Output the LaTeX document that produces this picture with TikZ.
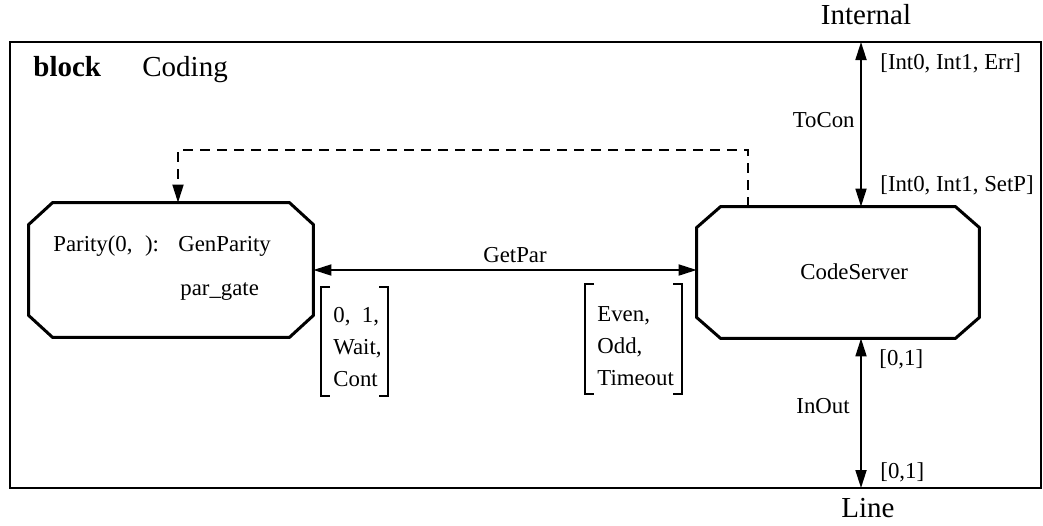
\documentclass[tikz,border=0pt]{standalone}
\usepackage{fontspec}
\setmainfont{Liberation Serif}
\usetikzlibrary{arrows.meta,calc}
\newcommand\octdraw[3]{\draw[octline] ($(#1.north west)+(#2,0)$) -- ($(#1.north east)+(-#2,0)$) -- ($(#1.north east)+(0,#3)$) -- ($(#1.south east)+(0,-#3)$) -- ($(#1.south east)+(-#2,0)$) -- ($(#1.south west)+(#2,0)$) -- ($(#1.south west)+(0,-#3)$) -- ($(#1.north west)+(0,#3)$) -- cycle;}
\newcommand\bigtxt{\fontsize{14.5}{17}\selectfont}
\begin{document}
\begin{tikzpicture}[x=0.5pt,y=-0.5pt,
  font=\fontsize{11.4}{14}\selectfont,
  frameline/.style={line width=1.3pt},
  octline/.style={line width=1.5pt, line join=miter},
  conn/.style={line width=0.9pt, {Triangle[length=9pt,width=5.5pt]}-{Triangle[length=9pt,width=5.5pt]}},
  dconn/.style={line width=0.9pt, dash pattern=on 5pt off 3.5pt, -{Triangle[length=9pt,width=5.5pt]}},
  brk/.style={line width=1pt},
  box/.style={draw=none, inner sep=0pt},
  lbl/.style={anchor=base west, inner sep=0pt}]
\useasboundingbox (0,0) rectangle (1043,525);
% frame
\draw[frameline] (10,42) rectangle (1041,488);
\node[lbl] (blk) at (33,76) {\bigtxt\bfseries block};
\node[lbl] (cod) at (142,76) {\bigtxt Coding};
% processes
\node[box, minimum width=142pt, minimum height=67pt] (P) at (171,270) {};
\node[box, minimum width=141pt, minimum height=65.5pt] (C) at (838,272.5) {};
\octdraw{P}{24}{22}
\octdraw{C}{24}{21}
\node[lbl] (par) at (53,251) {Parity(0,\hspace{0.55em}):};
\node[lbl] (gp) at (178,251) {GenParity};
\node[lbl] (pg) at (180,295) {par\_gate};
\node[lbl] (cs) at (800,279) {CodeServer};
% GetPar channel
\draw[conn] (P.east) -- (P.east -| C.west);
\node[lbl, anchor=base] (getpar) at (515,262) {GetPar};
% signal lists
\draw[brk] (330,287) -- (321,287) -- (321,396) -- (330,396);
\draw[brk] (379,287) -- (388,287) -- (388,396) -- (379,396);
\node[lbl] (l1) at (333,322) {0,\ \ 1,};
\node[lbl] (l2) at (333,354) {Wait,};
\node[lbl] (l3) at (333,386) {Cont};
\draw[brk] (594,284) -- (585,284) -- (585,394) -- (594,394);
\draw[brk] (673,284) -- (682,284) -- (682,394) -- (673,394);
\node[lbl] (r1) at (597,321) {Even,};
\node[lbl] (r2) at (597,353) {Odd,};
\node[lbl] (r3) at (597,385) {Timeout};
% dashed connection
\coordinate (dR) at (748,150);
\coordinate (dL) at (178,150);
\draw[dconn] (dR |- C.north) -- (dR) -- (dL) -- (dL |- P.north);
% ToCon
\coordinate (tin) at (861,42);
\draw[conn] (tin) -- (tin |- C.north);
\node[lbl, anchor=base] (int) at (866,24) {\bigtxt Internal};
\node[lbl, anchor=base east] (tocon) at (855,127) {ToCon};
\node[lbl] (e1) at (880,69) {[Int0, Int1, Err]};
\node[lbl] (e2) at (880,191) {[Int0, Int1, SetP]};
% InOut
\coordinate (lin) at (861,488);
\draw[conn] (lin |- C.south) -- (lin);
\node[lbl] (b1) at (879,365) {[0,1]};
\node[lbl, anchor=base east] (io) at (850,413) {InOut};
\node[lbl] (b2) at (880,478) {[0,1]};
\node[lbl, anchor=base] (line) at (868,517) {\bigtxt Line};
\end{tikzpicture}
\end{document}
